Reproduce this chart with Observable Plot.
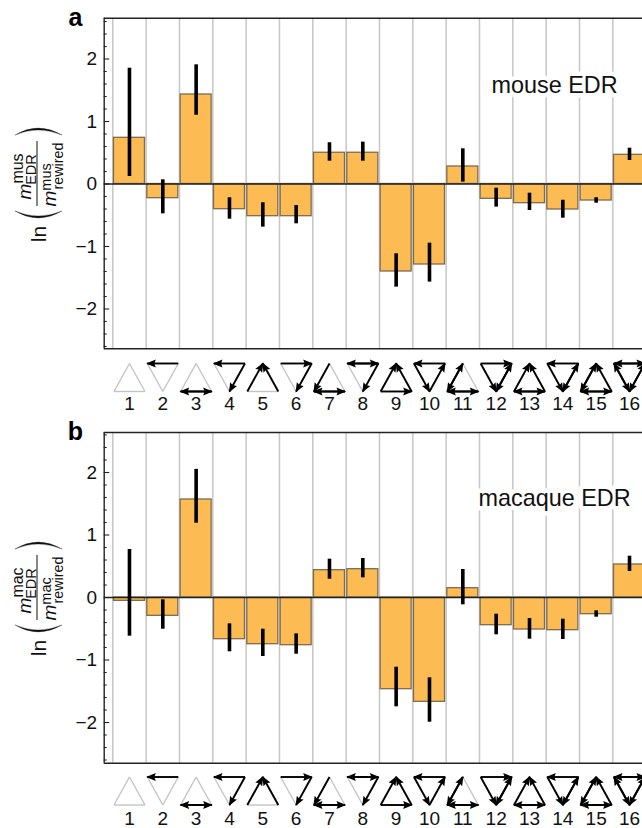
<!DOCTYPE html>
<html><head><meta charset="utf-8">
<script src="https://cdn.jsdelivr.net/npm/d3@7"></script>
<script src="https://cdn.jsdelivr.net/npm/@observablehq/plot@0.6"></script>
<style>html,body{margin:0;padding:0;background:#fff;overflow:hidden}svg{display:block}</style>
</head><body><div id="chart"></div>
<script>
const motifs = [1,2,3,4,5,6,7,8,9,10,11,12,13,14,15,16];
const mouseValues = [0.739,-0.227,1.432,-0.403,-0.515,-0.515,0.5,0.5,-1.40,-1.288,0.28,-0.237,-0.307,-0.408,-0.264,0.467];
const mouseLow  = [0.12,-0.477,1.10,-0.563,-0.69,-0.637,0.365,0.365,-1.65,-1.57,0.03,-0.37,-0.424,-0.547,-0.307,0.376];
const mouseHigh = [1.853,0.067,1.907,-0.22,-0.30,-0.344,0.66,0.67,-1.117,-0.947,0.563,-0.067,-0.147,-0.26,-0.22,0.573];
const macaqueValues = [-0.053,-0.293,1.568,-0.667,-0.747,-0.763,0.437,0.453,-1.467,-1.669,0.149,-0.443,-0.512,-0.523,-0.267,0.528];
const macaqueLow  = [-0.619,-0.507,1.189,-0.869,-0.944,-0.907,0.293,0.315,-1.749,-1.995,-0.117,-0.597,-0.667,-0.672,-0.315,0.416];
const macaqueHigh = [0.768,-0.037,2.05,-0.421,-0.507,-0.581,0.613,0.624,-1.115,-1.285,0.448,-0.267,-0.336,-0.347,-0.213,0.661];
// Motif edges: "" none, f head at second vertex, b head at first, d both.
// base: left corner to right corner; leftSide / rightSide: corner to apex.
const base      = ["","b","d","b","","f","d","d","f","b","d","f","d","b","d","d"];
const leftSide  = ["","","","","f","","b","","f","f","d","f","f","f","d","d"];
const rightSide = ["","","","f","f","f","","f","f","b","","d","f","d","f","d"];
const yTicks = [-2,-1,0,1,2];
const minorTicks = [-2.6,-2.4,-2.2,-1.8,-1.6,-1.4,-1.2,-0.8,-0.6,-0.4,-0.2,0.2,0.4,0.6,0.8,1.2,1.4,1.6,1.8,2.2,2.4,2.6];

const FONT = "'Liberation Sans', Arial, sans-serif";
const HALF = 0.465;
const Y_HIGH = -2.872, Y_LOW = -3.32; // motif band, below the plot frame

function edges() {
  const out = [];
  motifs.forEach((m, i) => {
    const up = m % 2 === 1;
    const baseY = up ? Y_LOW : Y_HIGH, apexY = up ? Y_HIGH : Y_LOW;
    const L = [m - HALF, baseY], R = [m + HALF, baseY], A = [m, apexY];
    for (const [code, a, b] of [[base[i], L, R], [leftSide[i], L, A], [rightSide[i], R, A]]) {
      if (code === "") out.push({a, b, on: false});
      if (code === "f" || code === "d") out.push({a, b, on: true});
      if (code === "b" || code === "d") out.push({a: b, b: a, on: true});
    }
  });
  return out;
}
const head = (color, context) => d3.create("svg:marker", context)
  .attr("viewBox", "-12 -6 14 12").attr("markerWidth", 14).attr("markerHeight", 12)
  .attr("markerUnits", "userSpaceOnUse").attr("refX", 0).attr("refY", 0).attr("orient", "auto")
  .call(s => s.append("path").attr("d", "M1.2,0L-8.5,-3.9L-7,0L-8.5,3.9Z").attr("fill", color).attr("stroke", "none"))
  .node();
const signed = d => d < 0 ? `\u2212${-d}` : `${d}`;

function panel({letter, word, label, values, low, high, domain, marginTop, marginBottom, labelY}) {
  const ml = 103.7;
  const rows = motifs.map((m, i) => ({m, v: values[i], lo: low[i], hi: high[i]}));
  const all = edges();
  const frag = (text, px, py, size, extra = {}) => Plot.text([text], {
    text: d => d, frameAnchor: "top-left", dx: px - ml, dy: py - marginTop, rotate: -90,
    textAnchor: "middle", lineAnchor: "middle", fontSize: size, fill: "#111", ...extra
  });
  const xMin = 0.242;
  const svg = Plot.plot({
    width: 642, height: 414, marginLeft: ml, marginRight: 0, marginTop, marginBottom,
    style: {fontFamily: FONT, background: "#fff", color: "#111"},
    x: {domain: [xMin, 16.39]},
    y: {domain},
    marks: [
      Plot.ruleX(motifs.map(m => m - 0.5), {y1: domain[0], y2: domain[1], stroke: "#c6c6c6", strokeWidth: 1.5}),
      Plot.text([word], {x: 13.75, y: labelY, text: d => d, fontSize: 23.4, fill: "#111", stroke: "#fff", strokeWidth: 9, paintOrder: "stroke"}),
      Plot.rect(rows, {x1: d => d.m - HALF, x2: d => d.m + HALF, y1: 0, y2: "v", fill: "#fdbb54", stroke: "#7c6c50", strokeWidth: 1.3}),
      Plot.ruleY([0], {stroke: "#222", strokeWidth: 1.3}),
      Plot.ruleX(rows, {x: "m", y1: "lo", y2: "hi", stroke: "#000", strokeWidth: 3.6}),
      Plot.ruleY(yTicks, {x1: xMin, x2: xMin + 5.5 / 33.3, stroke: "#222", strokeWidth: 1.1}),
      Plot.ruleY(minorTicks, {x1: xMin, x2: xMin + 3 / 33.3, stroke: "#222", strokeWidth: 1.1}),
      Plot.ruleX([xMin], {y1: domain[0], y2: domain[1], stroke: "#222", strokeWidth: 1.4}),
      Plot.ruleY([domain[0], domain[1]], {stroke: "#222", strokeWidth: 1.4}),
      Plot.axisY({ticks: yTicks, tickSize: 0, tickPadding: 7, label: null, fill: "#111", tickFormat: signed}),
      Plot.axisX({ticks: motifs, tickSize: 0, tickPadding: 48, label: null, fill: "#111", tickFormat: d => d}),
      Plot.link(all.filter(e => !e.on), {x1: e => e.a[0], y1: e => e.a[1], x2: e => e.b[0], y2: e => e.b[1], stroke: "#c4c4c4", strokeWidth: 1.4}),
      Plot.link(all.filter(e => e.on), {x1: e => e.a[0], y1: e => e.a[1], x2: e => e.b[0], y2: e => e.b[1], stroke: "#000", strokeWidth: 1.9, markerEnd: head}),
      Plot.text([letter], {text: d => d, frameAnchor: "top-left", dx: 75 - ml, dy: 17 - marginTop, fontSize: 25, fontWeight: "bold", fill: "#000", textAnchor: "middle", lineAnchor: "middle"}),
      frag("ln", 39, 233.5, 21),
      frag("m", 24, 191, 19, {fontStyle: "italic"}),
      frag(label, 17.5, 168, 16),
      frag("EDR", 30.5, 169, 14.5),
      frag("m", 49, 198, 19, {fontStyle: "italic"}),
      frag(label, 46, 176.5, 14.5),
      frag("rewired", 58, 165.5, 14.3)
    ]
  });
  const s = d3.select(svg);
  s.selectAll('g[aria-label="y-axis tick label"] text, g[aria-label="x-axis tick label"] text').attr("font-size", 19);
  s.selectAll('g[aria-label="y-axis tick label"], g[aria-label="x-axis tick label"]').attr("font-size", 19);
  s.append("path").attr("d", "M37,141V206").attr("stroke", "#111").attr("stroke-width", 1).attr("fill", "none");
  s.append("path").attr("d", "M15,211Q38,225 62,211Q38,221 15,211Z").attr("fill", "#111").attr("stroke", "#111").attr("stroke-width", 0.3);
  s.append("path").attr("d", "M15,135Q38,121 62,135Q38,125 15,135Z").attr("fill", "#111").attr("stroke", "#111").attr("stroke-width", 0.3);
  return svg;
}
const root = document.getElementById("chart");
root.append(panel({letter: "a", word: "mouse EDR", label: "mus", values: mouseValues, low: mouseLow, high: mouseHigh,
  domain: [-2.637, 2.653], marginTop: 17.7, marginBottom: 65.7, labelY: 1.576}));
root.append(panel({letter: "b", word: "macaque EDR", label: "mac", values: macaqueValues, low: macaqueLow, high: macaqueHigh,
  domain: [-2.651, 2.64], marginTop: 18, marginBottom: 65.3, labelY: 1.584}));
</script></body></html>
